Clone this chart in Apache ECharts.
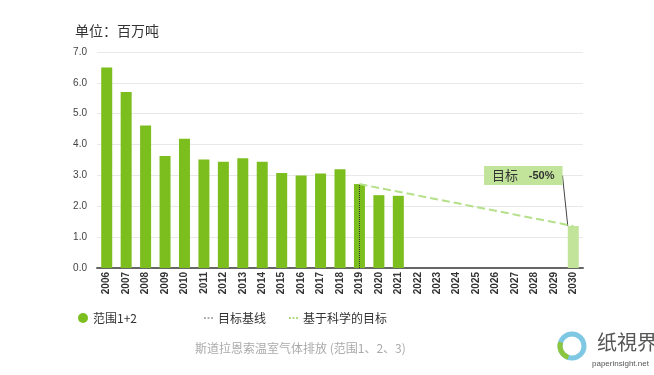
<!DOCTYPE html>
<html>
<head>
<meta charset="utf-8">
<script src="https://cdn.jsdelivr.net/npm/echarts@6/dist/echarts.min.js"></script>
<style>
  html, body { margin: 0; padding: 0; background: #fff; }
  #main { width: 654px; height: 375px; }
</style>
</head>
<body>
<div id="main"></div>
<script>
// 年份
var years = ["2006","2007","2008","2009","2010","2011","2012","2013","2014","2015","2016","2017","2018","2019","2020","2021","2022","2023","2024","2025","2026","2027","2028","2029","2030"];
// 范围1+2 排放（百万吨）
var emissions = [6.5, 5.7, 4.62, 3.63, 4.19, 3.52, 3.44, 3.56, 3.44, 3.08, 3.0, 3.06, 3.2, 2.72, 2.36, 2.34, null, null, null, null, null, null, null, null, 1.36];
// 基于科学的目标（2019 -> 2030）
var targetLine = [null, null, null, null, null, null, null, null, null, null, null, null, null, 2.72, null, null, null, null, null, null, null, null, null, null, 1.36];
var baselineYear = "2019";
var targetYear = "2030";

var chart = echarts.init(document.getElementById("main"));
var font = "'Noto Sans CJK SC', 'Liberation Sans', sans-serif";
// 虚线图例图标
var dotIcon = "path://M0,4h2v2h-2z M4,4h2v2h-2z M8,4h2v2h-2z";

function legendAt(left, name, icon, w) {
  return {
    left: left,
    top: 307,
    itemWidth: w,
    itemHeight: w === 10 ? 10 : 10,
    textStyle: { fontSize: 12, color: "#333" },
    data: [{ name: name, icon: icon }]
  };
}

chart.setOption({
  animation: false,
  textStyle: { fontFamily: font },
  title: [
    {
      text: "单位：百万吨",
      left: 70,
      top: 19,
      textStyle: { fontSize: 14, fontWeight: "normal", color: "#333" }
    },
    {
      text: "斯道拉恩索温室气体排放 (范围1、2、3)",
      left: 190,
      top: 337,
      textStyle: { fontSize: 12, fontWeight: "normal", color: "#aaa" }
    }
  ],
  legend: [
    legendAt(73, "范围1+2", "circle", 10),
    legendAt(199, "目标基线", dotIcon, 9),
    legendAt(284, "基于科学的目标", dotIcon, 9)
  ],
  grid: { left: 97, right: 71, top: 52, bottom: 107 },
  xAxis: {
    type: "category",
    data: years,
    axisLine: { lineStyle: { color: "#666", width: 2 } },
    axisTick: { show: false },
    axisLabel: {
      rotate: 90,
      interval: 0,
      fontSize: 10,
      fontWeight: "bold",
      color: "#333",
      margin: 4,
      fontFamily: "'Liberation Sans', sans-serif"
    }
  },
  yAxis: {
    type: "value",
    min: 0,
    max: 7,
    interval: 1,
    axisLine: { show: false },
    axisTick: { show: false },
    splitLine: { lineStyle: { color: "#e8e8e8" } },
    axisLabel: {
      fontSize: 10,
      color: "#444",
      margin: 10,
      fontFamily: "'Liberation Sans', sans-serif",
      formatter: function (v) { return v.toFixed(1); }
    }
  },
  series: [
    {
      name: "范围1+2",
      type: "bar",
      barWidth: 11,
      itemStyle: { color: "#7cbe1e" },
      data: emissions.map(function (v, i) {
        if (years[i] === targetYear && v !== null) {
          return {
            value: v,
            itemStyle: { color: "#c1e39a" },
            label: {
              show: true,
              position: "top",
              formatter: "{a|目标}    {b|-50%}",
              backgroundColor: "#c1e39a",
              padding: [3, 8],
              rich: {
                a: { fontSize: 13, color: "#333" },
                b: { fontSize: 11, fontWeight: "bold", color: "#333", fontFamily: "'Liberation Sans', sans-serif" }
              }
            }
          };
        }
        return v;
      }),
      labelLine: { show: true, lineStyle: { color: "#444", width: 1 } },
      labelLayout: function (p) {
        if (p.dataIndex === years.indexOf(targetYear)) {
          return { dx: -50, dy: -36 };
        }
        return {};
      },
      z: 2
    },
    {
      name: "目标基线",
      type: "line",
      data: [],
      symbol: "none",
      itemStyle: { color: "#aaa" },
      lineStyle: { color: "#aaa", type: "dotted", width: 1 },
      markLine: {
        silent: true,
        symbol: ["none", "none"],
        label: { show: false },
        lineStyle: { color: "#333", type: "dotted", width: 1 },
        data: [[
          { xAxis: baselineYear, yAxis: 0 },
          { xAxis: baselineYear, yAxis: emissions[years.indexOf(baselineYear)] }
        ]]
      },
      z: 5
    },
    {
      name: "基于科学的目标",
      type: "line",
      data: targetLine,
      connectNulls: true,
      symbol: "none",
      itemStyle: { color: "#a8d878" },
      lineStyle: { color: "#b5e08a", type: "dashed", width: 2 },
      z: 4
    }
  ],
  graphic: [
    {
      type: "circle",
      shape: { cx: 572, cy: 346, r: 12 },
      style: { fill: "none", stroke: "#7ec8e3", lineWidth: 5 }
    },
    {
      type: "arc",
      shape: { cx: 572, cy: 346, r: 12, startAngle: Math.PI * 0.6, endAngle: Math.PI * 1.1 },
      style: { fill: "none", stroke: "#8cc63f", lineWidth: 5 }
    },
    {
      type: "text",
      left: 597,
      top: 332,
      style: { text: "纸視界", fontSize: 20, fill: "#555", fontFamily: font }
    },
    {
      type: "text",
      left: 592,
      top: 360,
      style: { text: "paperinsight.net", fontSize: 8, fill: "#555", fontFamily: "'Liberation Sans', sans-serif" }
    }
  ]
});
</script>
</body>
</html>
